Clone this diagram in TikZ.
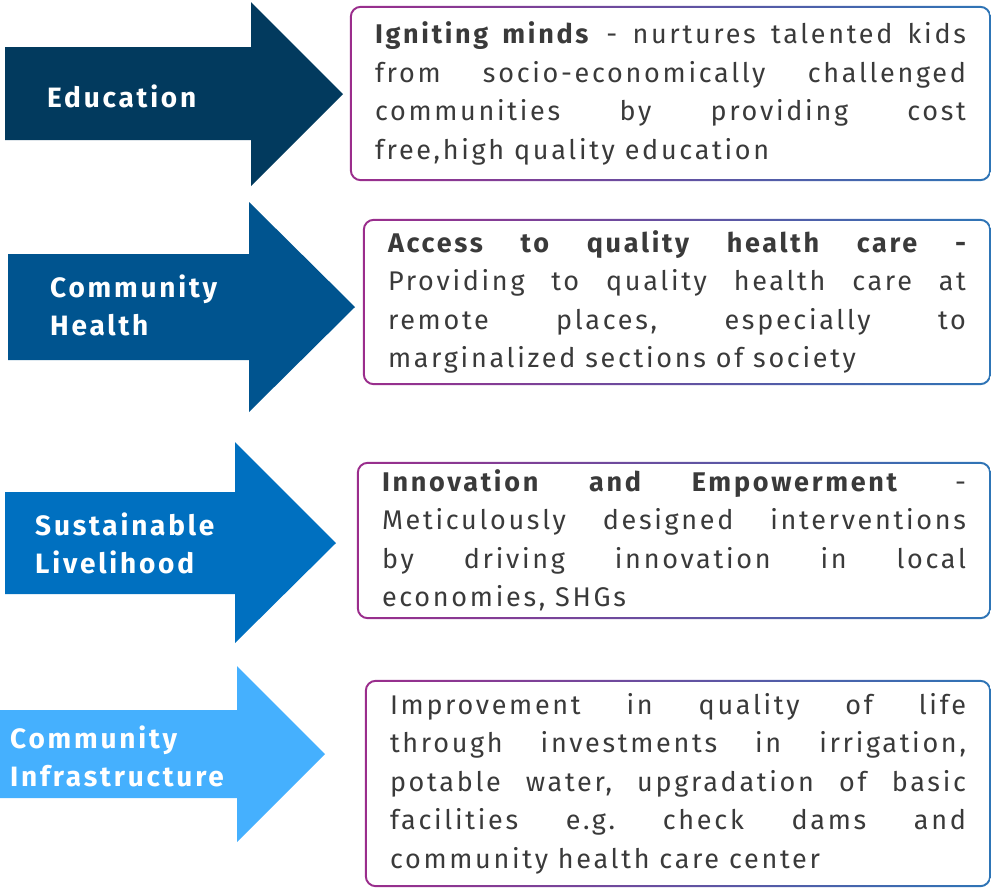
\documentclass[tikz,border=0pt]{standalone}
\usepackage{fontspec}
\setmainfont{Fira Sans}[LetterSpace=10]
\usetikzlibrary{positioning}
\definecolor{edunavy}{RGB}{2,58,94}
\definecolor{healthblue}{RGB}{0,84,143}
\definecolor{livelyblue}{RGB}{0,112,192}
\definecolor{infrasky}{RGB}{69,176,254}
\definecolor{rimpurple}{RGB}{155,45,140}
\definecolor{rimblue}{RGB}{46,117,182}
\definecolor{bodygray}{RGB}{58,58,58}
\frenchspacing
\hyphenpenalty=10000

\tikzset{
  tag/.style={anchor=west, align=left, text=white, inner sep=0pt, font=\fontsize{28}{38}\selectfont\bfseries},
  infobox/.style={align=justify, text=bodygray, inner xsep=24pt, inner ysep=0pt, font=\fontsize{27}{38.5}\selectfont},
  rim/.style={left color=rimpurple, right color=rimblue, even odd rule},
}

\begin{document}
\begin{tikzpicture}[x=1pt, y=-1pt]
  \useasboundingbox (0,0) rectangle (991,887);

  % Arrows on the left
  \fill[edunavy] (5,47) -- (251,47) -- (251,2) -- (343,94) -- (251,186) -- (251,140) -- (5,140) -- cycle;
  \node[tag] (edu) at (47,96) {Education};

  \fill[healthblue] (8,254) -- (249,254) -- (249,202) -- (355,307) -- (249,412) -- (249,360) -- (8,360) -- cycle;
  \node[tag] (health) at (50,305) {Community\\Health};

  \fill[livelyblue] (5,492) -- (235,492) -- (235,442) -- (336,543) -- (235,643) -- (235,594) -- (5,594) -- cycle;
  \node[tag] (liveli) at (35,543) {Sustainable\\Livelihood};

  \fill[infrasky] (0,710) -- (237,710) -- (237,666) -- (325,754) -- (237,842) -- (237,798) -- (0,798) -- cycle;
  \node[tag] (infra) at (10,756) {Community\\Infrastructure};

  % Text boxes on the right
  \node[infobox, text width=591pt, minimum height=173pt] (b1) at (670.5,93.5) {
    \textbf{Igniting minds} - nurtures talented kids\linebreak
    from socio-economically challenged\linebreak
    communities by providing cost\linebreak
    free,high quality education};

  \node[infobox, text width=578pt, minimum height=164pt] (b2) at (677,302) {
    \textbf{Access to quality health care -}\linebreak
    Providing to quality health care at\linebreak
    remote places, especially to\linebreak
    marginalized sections of society};

  \node[infobox, text width=584pt, minimum height=155pt] (b3) at (674,540.5) {
    \textbf{Innovation and Empowerment} -\linebreak
    Meticulously designed interventions\linebreak
    by driving innovation in local\linebreak
    economies, SHGs};

  \node[infobox, text width=576pt, minimum height=205pt] (b4) at (678,783.5) {
    Improvement in quality of life\linebreak
    through investments in irrigation,\linebreak
    potable water, upgradation of basic\linebreak
    facilities e.g. check dams and\linebreak
    community health care center};

  % Shaded frames round the boxes
  \foreach \b in {b1,b2,b3,b4}
    \shade[rim] [rounded corners=11pt] ([xshift=-1pt,yshift=-1pt]\b.south west) rectangle ([xshift=1pt,yshift=1pt]\b.north east)
      [rounded corners=9pt] ([xshift=1pt,yshift=1pt]\b.south west) rectangle ([xshift=-1pt,yshift=-1pt]\b.north east);
\end{tikzpicture}
\end{document}
